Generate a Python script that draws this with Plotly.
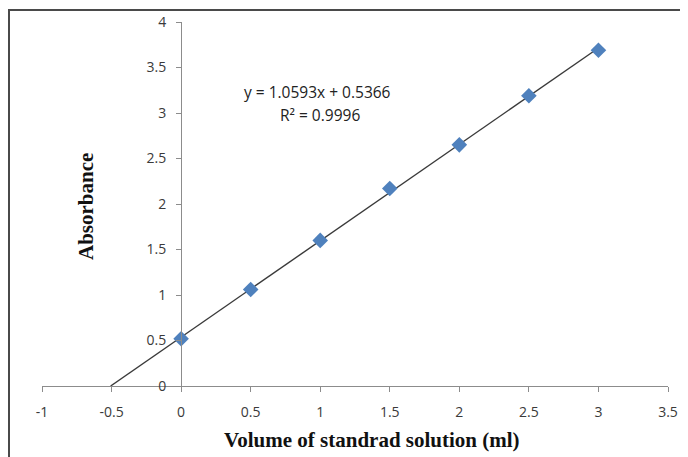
import plotly.graph_objects as go

volume = [0, 0.5, 1, 1.5, 2, 2.5, 3]
absorbance = [0.52, 1.06, 1.60, 2.17, 2.65, 3.19, 3.69]
slope = 1.0593
intercept = 0.5366
r2 = 0.9996
x_ticks = [-1, -0.5, 0, 0.5, 1, 1.5, 2, 2.5, 3, 3.5]
y_ticks = [0, 0.5, 1, 1.5, 2, 2.5, 3, 3.5, 4]

x_start = -intercept / slope
x_end = max(volume)
line_x = [x_start, x_end]
line_y = [slope * x + intercept for x in line_x]

W, H = 688, 457
OFF = 8  # page body margin
# target pixel positions in the screenshot
L, R, T, B = 42, 668, 22, 386
ml, mt = L - OFF, T - OFF
mr = W - (R - OFF)
mb = H - (B - OFF)
pw, ph = W - ml - mr, H - mt - mb

def px(xp):
    return (xp - OFF - ml) / pw

def py(yp):
    return (H - mb - (yp - OFF)) / ph

fig = go.Figure()
fig.add_trace(go.Scatter(x=line_x, y=line_y, mode="lines",
                         line=dict(color="#3a3a3a", width=1.4), hoverinfo="skip"))
fig.add_trace(go.Scatter(x=volume, y=absorbance, mode="markers",
                         marker=dict(symbol="diamond", size=12, color="#4F81BD",
                                     line=dict(width=0))))

tickfont = dict(family="Open Sans, Noto Sans, sans-serif", size=14, color="#3a3a3a")
fig.update_layout(
    width=W, height=H,
    margin=dict(l=ml, r=mr, t=mt, b=mb, autoexpand=False),
    paper_bgcolor="white", plot_bgcolor="white",
    showlegend=False,
    xaxis=dict(range=[-1, 3.5], tickvals=x_ticks, ticktext=[f"{v:g}" for v in x_ticks],
               showgrid=False, zeroline=False, showline=True, linecolor="#8c8c8c",
               linewidth=1, ticks="outside", ticklen=5, tickcolor="#8c8c8c",
               tickfont=tickfont, ticklabelstandoff=8, fixedrange=True, automargin=False),
    yaxis=dict(range=[0, 4], tickvals=y_ticks, ticktext=[f"{v:g}" for v in y_ticks],
               showgrid=False, zeroline=False, showline=True, linecolor="#8c8c8c",
               linewidth=1, ticks="outside", ticklen=5, tickcolor="#8c8c8c",
               tickfont=tickfont, ticklabelstandoff=7, anchor="free",
               position=(0 - (-1)) / 4.5, fixedrange=True, automargin=False),
)

fig.add_shape(type="rect", xref="paper", yref="paper",
              x0=px(9), x1=px(W + 30), y0=py(H + 30), y1=py(10),
              line=dict(color="#4a4a4a", width=2), fillcolor="rgba(0,0,0,0)", layer="above")

titlefont = dict(family="Liberation Serif, Times New Roman, serif", size=21, color="#111")
fig.add_annotation(text="<b>Absorbance</b>", xref="paper", yref="paper",
                   x=px(86), y=py(207), textangle=-90, showarrow=False, font=titlefont,
                   xanchor="center", yanchor="middle")
fig.add_annotation(text="<b>Volume of standrad solution (ml)</b>", xref="paper", yref="paper",
                   x=px(372), y=py(440), showarrow=False, font=titlefont,
                   xanchor="center", yanchor="middle")

eqfont = dict(family="Open Sans, Noto Sans, sans-serif", size=15.5, color="#222")
fig.add_annotation(text=f"y = {slope}x + {intercept}", xref="paper", yref="paper",
                   x=px(317), y=py(92), showarrow=False, font=eqfont,
                   xanchor="center", yanchor="middle")
fig.add_annotation(text=f"R² = {r2}", xref="paper", yref="paper",
                   x=px(320), y=py(115), showarrow=False, font=eqfont,
                   xanchor="center", yanchor="middle")

fig.write_html("out.html")
